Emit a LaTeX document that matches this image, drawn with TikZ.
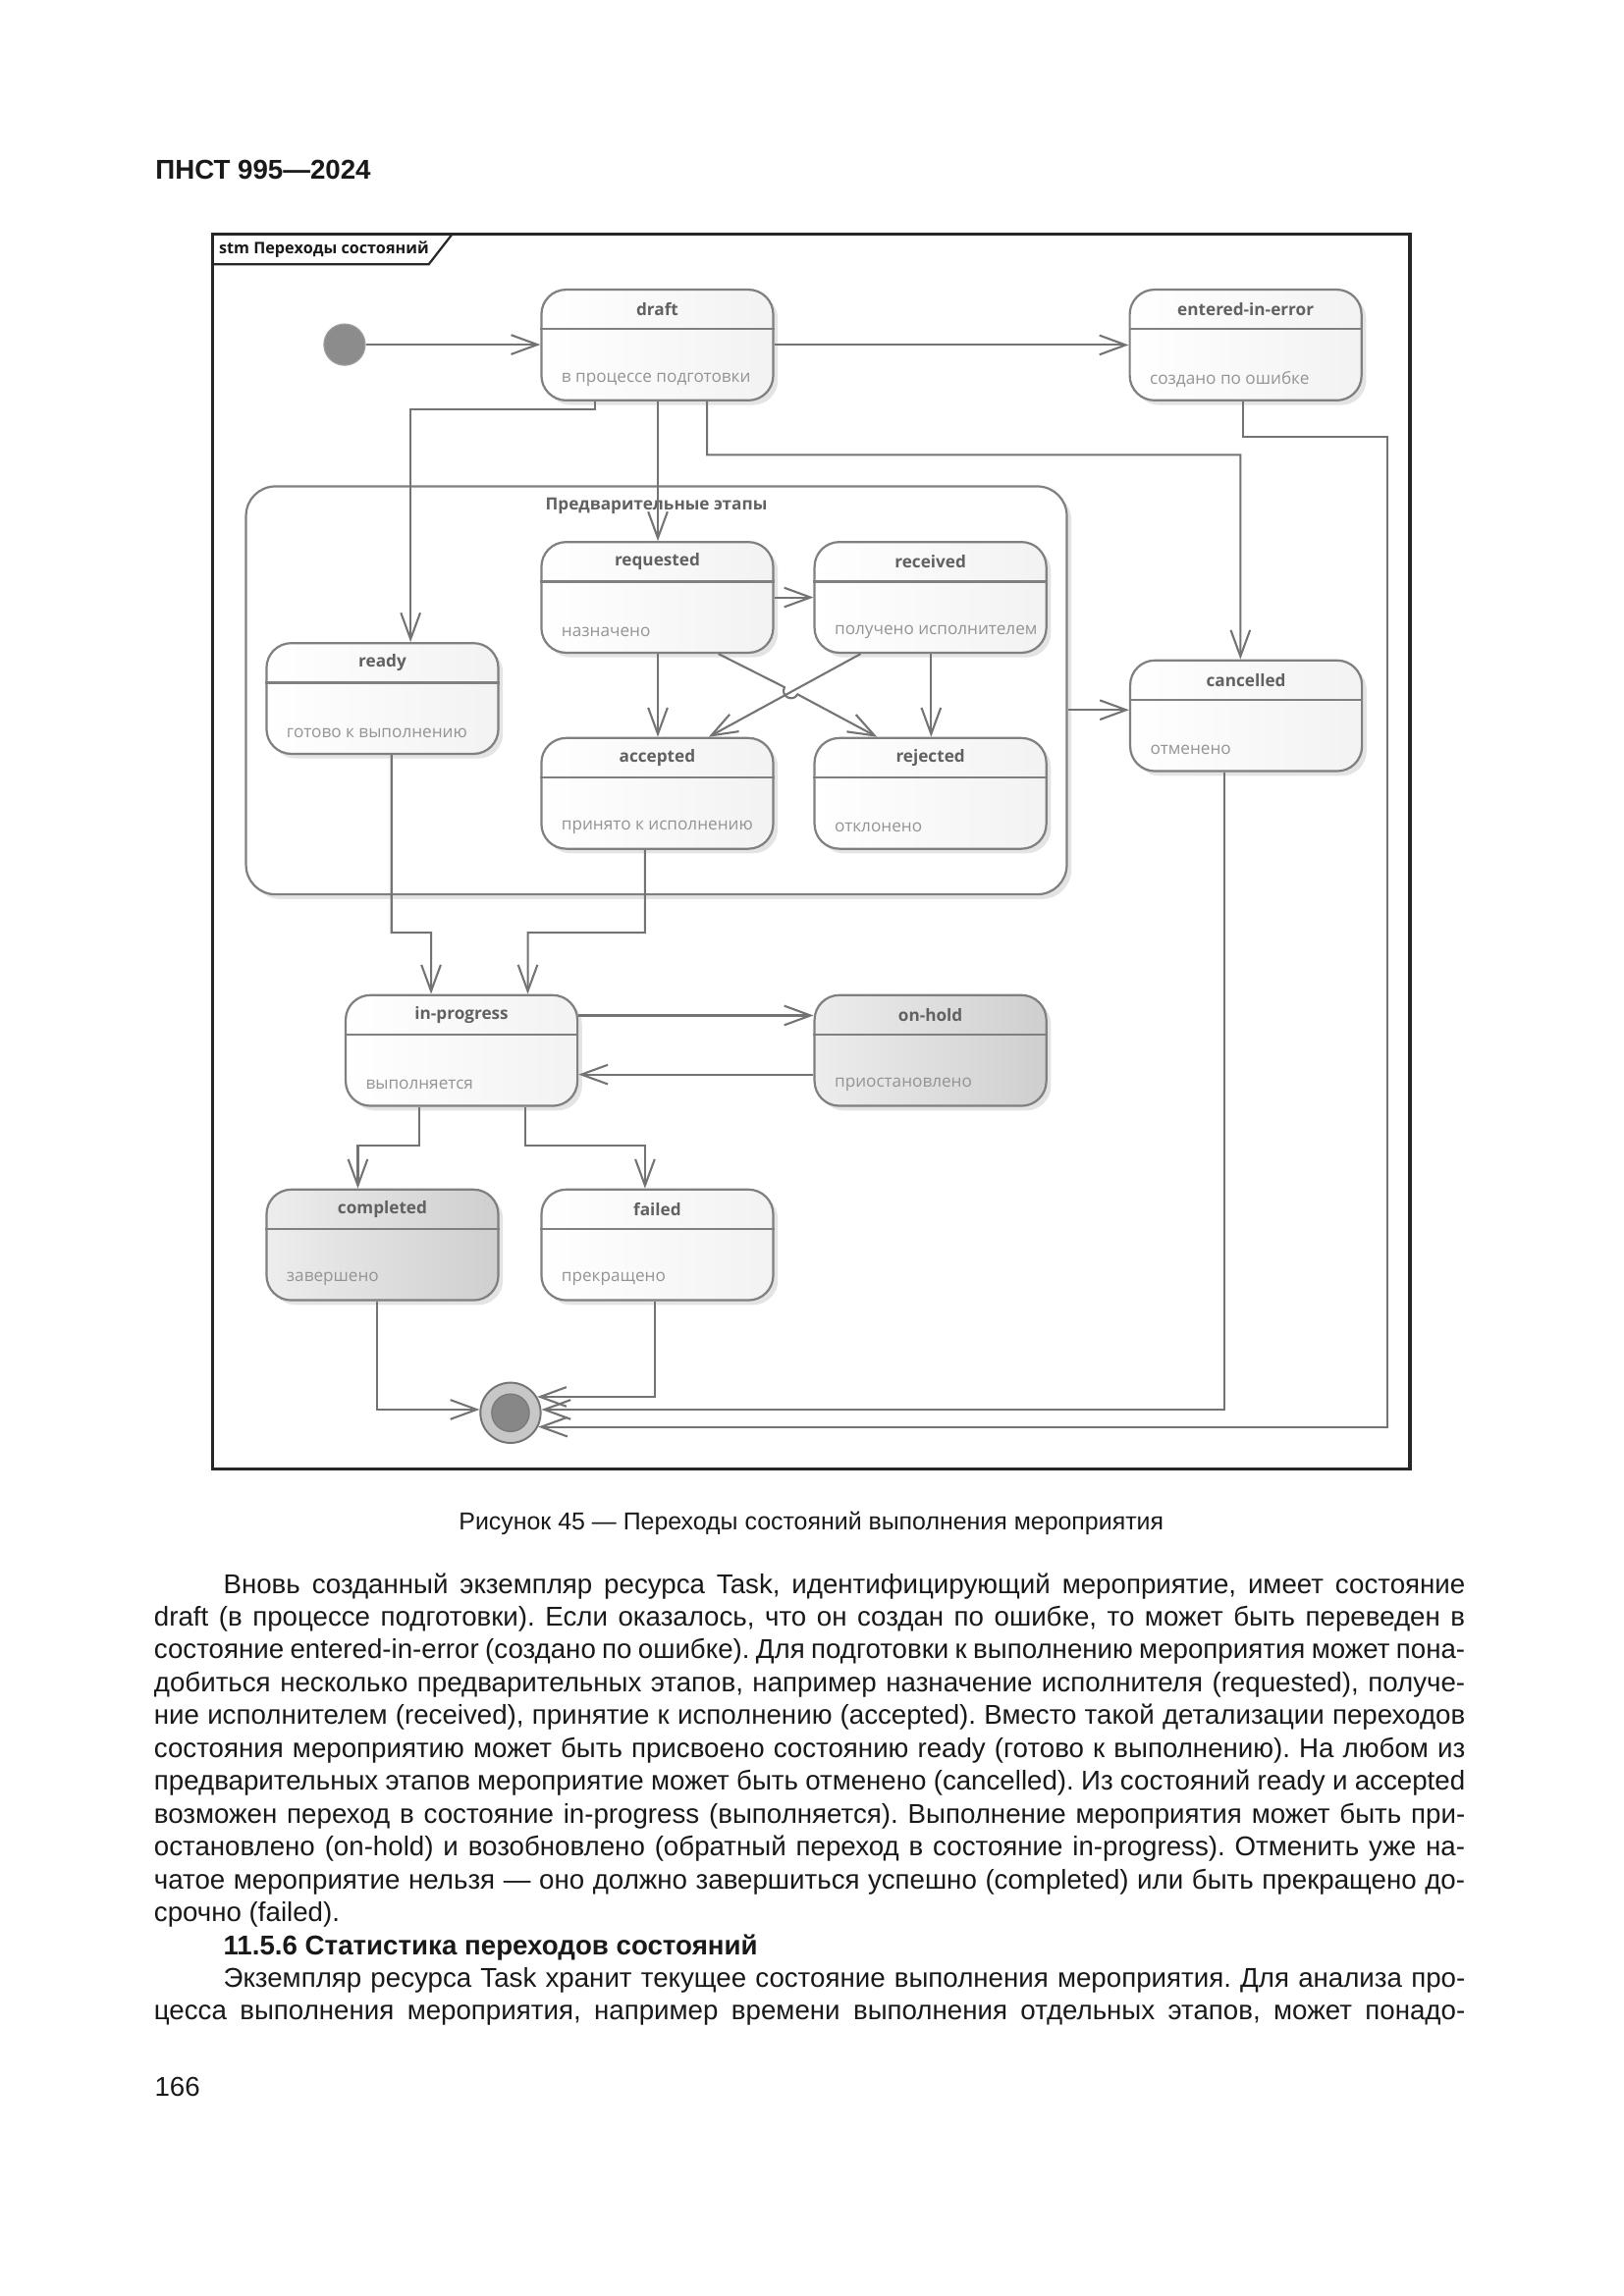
\documentclass[tikz,border=0pt]{standalone}
\usepackage{fontspec}
\setmainfont{Liberation Sans}
\newfontfamily\diag{Open Sans}
\usetikzlibrary{arrows.meta,calc,shadows}
\frenchspacing
\newcommand\Wfull{169.53mm}
\newcommand\Wind{160.56mm}
\newcommand\mkstate[6]{%
  \node[#2] (#1) at (#3,#4) {};
  \draw[divl] ($(#1.north west)+(0,27.5)$) -- ($(#1.north east)+(0,27.5)$);
  \node[ttl] (#1-t) at ($(#1.north)+(0,14)$) {#5};
  \node[dsc] (#1-d) at ($(#1.north west)+(14,61.5)$) {#6};
}
\begin{document}
\begin{tikzpicture}[x=0.19091mm,y=-0.19091mm,
  st/.style={draw=black!50, line width=0.8pt, rounded corners=3.2mm,
    minimum width=29.97mm, minimum height=14.32mm, inner sep=0pt, anchor=north west,
    left color=white, right color=black!5,
    drop shadow={shadow xshift=0.6mm, shadow yshift=-0.6mm, fill=black!30, opacity=0.35}},
  stg/.style={st, left color=black!7, right color=black!19},
  divl/.style={draw=black!50, line width=0.8pt},
  ttl/.style={font=\diag\bfseries\fontsize{6.2}{7}\selectfont, text=black!62, inner sep=0pt},
  dsc/.style={font=\diag\fontsize{6.2}{7}\selectfont, text=black!42, inner sep=0pt, anchor=west},
  tr/.style={draw=black!55, line width=0.75pt, -{Straight Barb[length=3.4mm,width=2.5mm]}},
  bl/.style={anchor=base west, inner sep=0pt, font=\fontsize{10}{12}\selectfont, text=black!90},
]
\useasboundingbox (0,0) rectangle (1100,1555.6);
\fill[white] (0,0) rectangle (1100,1555.6);

% page header
\node[anchor=base west, inner sep=0pt, font=\bfseries\fontsize{10}{12}\selectfont, text=black!90] (hdr) at (105,121.5) {ПНСТ 995—2024};

% diagram frame
\draw[line width=1.2pt, black!85] (144.1,158.5) rectangle (955,995.4);
\draw[line width=0.8pt, black!85] (144.1,179.1) -- (290.4,179.1) -- (306.4,158.5);
\node[anchor=west, inner sep=0pt, font=\diag\bfseries\fontsize{5.85}{7}\selectfont, text=black!90] (tabl) at (148,169) {stm Переходы состояний};

% composite state
\node[draw=black!50, line width=0.8pt, rounded corners=3.8mm, fill=white, anchor=north west,
  minimum width=106.13mm, minimum height=52.77mm, inner sep=0pt,
  drop shadow={shadow xshift=0.6mm, shadow yshift=-0.6mm, fill=black!30, opacity=0.35}] (comp) at (165.9,328.8) {};
\node[ttl] (comp-t) at ($(comp.north)+(0,14)$) {Предварительные этапы};

% states
\mkstate{draft}{st}{366}{195.5}{draft}{в процессе подготовки}
\mkstate{eie}{st}{764.5}{195.5}{entered-in-error}{создано по ошибке}
\mkstate{req}{st}{366}{366.5}{requested}{назначено}
\mkstate{rec}{st}{551}{366.5}{received}{получено исполнителем}
\mkstate{ready}{st}{179.8}{435}{ready}{готово к выполнению}
\mkstate{acc}{st}{366}{499.3}{accepted}{принято к исполнению}
\mkstate{rej}{st}{551}{499.3}{rejected}{отклонено}
\mkstate{canc}{st}{764.8}{446.7}{cancelled}{отменено}
\mkstate{inprog}{st}{233.4}{673.5}{in-progress}{выполняется}
\mkstate{onhold}{stg}{551}{673.5}{on-hold}{приостановлено}
\mkstate{compl}{stg}{179.8}{805.2}{completed}{завершено}
\mkstate{failed}{st}{366}{805.2}{failed}{прекращено}

% pseudo states
\node[circle, fill=black!45, draw=black!38, minimum size=5.35mm, inner sep=0pt] (init) at (233.4,233.5) {};
\node[circle, draw=black!55, fill=black!22, line width=0.7pt, minimum size=7.79mm, inner sep=0pt] (final) at (345.8,957.2) {};
\node[circle, fill=black!47, draw=black!52, line width=0.5pt, minimum size=4.85mm, inner sep=0pt] (finalin) at (final.center) {};

% transitions
\draw[tr] (init.east) -- (init.east -| draft.west);
\draw[tr] (draft.east) -- (eie.west);
\draw[tr] ($(draft.south west)+(37,0)$) |- (278.1,277.3) -- ($(ready.north west)+(98.3,0)$);
\draw[tr] ($(draft.south west)+(79.6,0)$) -- ($(req.north west)+(79.6,0)$);
\draw[tr] ($(draft.south west)+(112.9,0)$) |- (840.2,308.2) -- ($(canc.north west)+(75.4,0)$);
\draw[tr] ($(eie.south west)+(77.3,0)$) |- (940,296) |- (final.-27.5);
\draw[tr] (req.east) -- (rec.west);
\draw[tr] ($(req.south west)+(79.6,0)$) -- ($(acc.north west)+(79.6,0)$);
\draw[tr] ($(req.south west)+(120.6,0)$) -- (531.4,465.6)
   .. controls (528.2,471.5) and (537.0,476.3) .. (540.2,470.4)
   -- ($(rej.north west)+(43.1,0)$);
\draw[tr] ($(rec.south west)+(32,0)$) -- ($(acc.north west)+(114,0)$);
\draw[tr] ($(rec.south west)+(79.7,0)$) -- ($(rej.north west)+(79.7,0)$);
\draw[tr] (comp.east |- 0,481) -- (canc.west |- 0,481);
\draw[tr] ($(ready.south west)+(85.4,0)$) |- (292,631.9) -- ($(inprog.north west)+(58.6,0)$);
\draw[tr] ($(acc.south west)+(70.9,0)$) |- (357.5,631.9) -- ($(inprog.north west)+(124.1,0)$);
\draw[tr] ($(inprog.north east)+(0,14.5)$) -- ($(onhold.north west)+(0,14.5)$);
\draw[tr] ($(onhold.north west)+(0,54.5)$) -- ($(inprog.north east)+(0,54.5)$);
\draw[tr] ($(inprog.south west)+(50.6,0)$) |- (242.4,776) -- ($(compl.north west)+(62.6,0)$);
\draw[tr] ($(inprog.south west)+(122.1,0)$) |- (436.9,776) -- ($(failed.north west)+(70.9,0)$);
\draw[tr] ($(compl.south west)+(75.5,0)$) |- (final.174);
\draw[tr] ($(failed.south west)+(77.4,0)$) |- (final.31);
\draw[tr] ($(canc.south west)+(64.8,0)$) |- (final.6);

% caption
\node[anchor=base, inner sep=0pt, font=\fontsize{9}{11}\selectfont, text=black!90] (cap) at (549.5,1036.3) {Рисунок 45 — Переходы состояний выполнения мероприятия};

% body text
\node[bl] (l1) at (151,1079.4) {\makebox[\Wind][s]{Вновь созданный экземпляр ресурса Task, идентифицирующий мероприятие, имеет состояние}};
\node[bl] (l2) at (104,1101.65) {\makebox[\Wfull][s]{draft (в процессе подготовки). Если оказалось, что он создан по ошибке, то может быть переведен в}};
\node[bl] (l3) at (104,1123.9) {\makebox[\Wfull][s]{состояние entered-in-error (создано по ошибке). Для подготовки к выполнению мероприятия может пона-}};
\node[bl] (l4) at (104,1146.15) {\makebox[\Wfull][s]{добиться несколько предварительных этапов, например назначение исполнителя (requested), получе-}};
\node[bl] (l5) at (104,1168.4) {\makebox[\Wfull][s]{ние исполнителем (received), принятие к исполнению (accepted). Вместо такой детализации переходов}};
\node[bl] (l6) at (104,1190.65) {\makebox[\Wfull][s]{состояния мероприятию может быть присвоено состоянию ready (готово к выполнению). На любом из}};
\node[bl] (l7) at (104,1212.9) {\makebox[\Wfull][s]{предварительных этапов мероприятие может быть отменено (cancelled). Из состояний ready и accepted}};
\node[bl] (l8) at (104,1235.15) {\makebox[\Wfull][s]{возможен переход в состояние in-progress (выполняется). Выполнение мероприятия может быть при-}};
\node[bl] (l9) at (104,1257.4) {\makebox[\Wfull][s]{остановлено (on-hold) и возобновлено (обратный переход в состояние in-progress). Отменить уже на-}};
\node[bl] (l10) at (104,1279.65) {\makebox[\Wfull][s]{чатое мероприятие нельзя — оно должно завершиться успешно (completed) или быть прекращено до-}};
\node[bl] (l11) at (104,1301.9) {срочно (failed).};
\node[bl, font=\bfseries\fontsize{10}{12}\selectfont] (l12) at (151,1324.15) {11.5.6 Статистика переходов состояний};
\node[bl] (l13) at (151,1346.4) {\makebox[\Wind][s]{Экземпляр ресурса Task хранит текущее состояние выполнения мероприятия. Для анализа про-}};
\node[bl] (l14) at (104,1368.65) {\makebox[\Wfull][s]{цесса выполнения мероприятия, например времени выполнения отдельных этапов, может понадо-}};

% page number
\node[bl] (pg) at (104.4,1420) {166};
\end{tikzpicture}
\end{document}
